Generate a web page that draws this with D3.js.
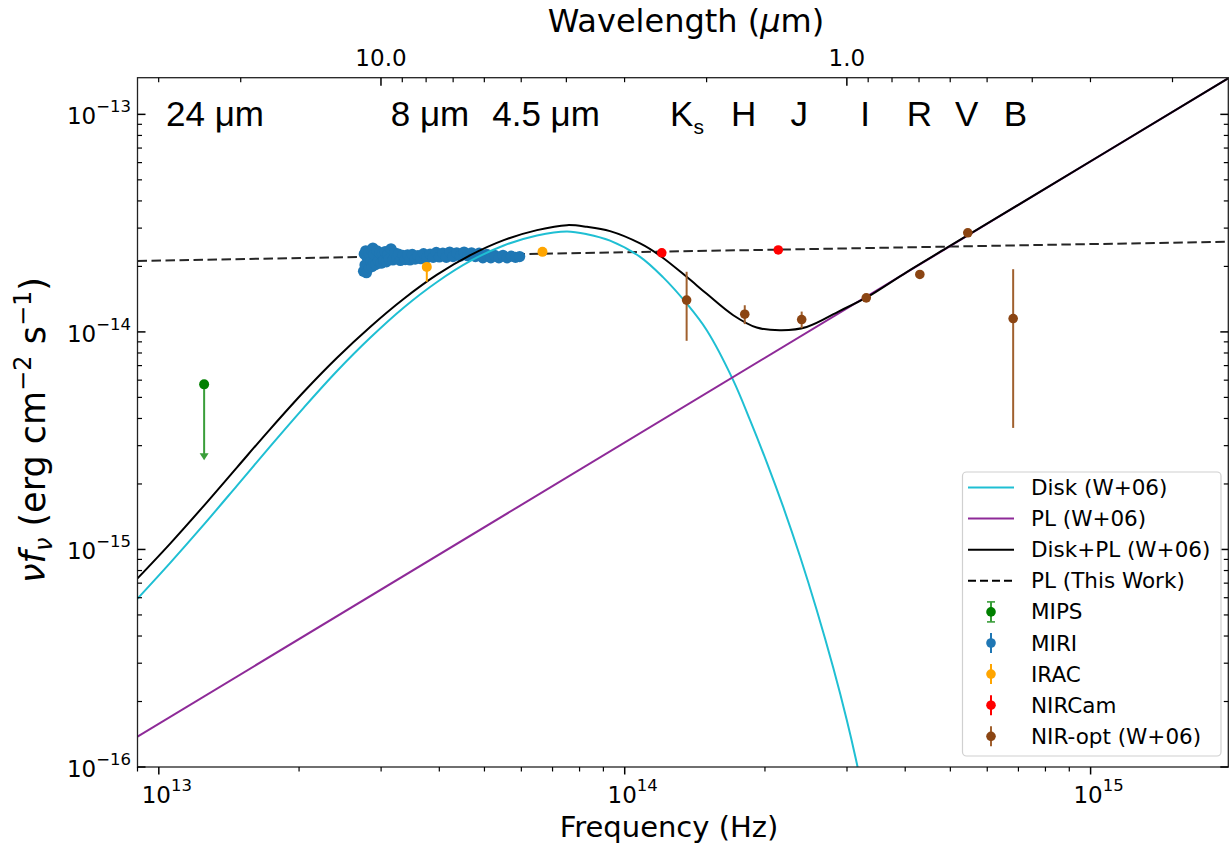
<!DOCTYPE html>
<html><head><meta charset="utf-8">
<script src="https://cdn.jsdelivr.net/npm/d3@7"></script>
<style>
body{margin:0;background:#fff;}
svg{display:block;}
text{font-family:"DejaVu Sans",sans-serif;fill:#000;}
</style></head><body>
<svg id="chart" width="1230" height="846"></svg>
<script>
// ---------------- data (frequency in Hz, nu*f_nu in erg cm^-2 s^-1) ----------------
const diskNu = [9.0e12,1.059e13,1.249e13,1.472e13,1.736e13,2.048e13,2.413e13,2.846e13,3.357e13,3.956e13,4.665e13,5.501e13,6.483e13,7.52e13,8.30e13,9.30e13,1.079e14,1.208e14,1.358e14,1.500e14,1.710e14,1.858e14,2.017e14,2.189e14,2.378e14,2.582e14,2.803e14,2.995e14,3.136e14,3.23e14];
const diskFlux = [5.94e-16,8.70e-16,1.300e-15,1.966e-15,2.986e-15,4.49e-15,6.61e-15,9.42e-15,1.295e-14,1.696e-14,2.119e-14,2.497e-14,2.776e-14,2.896e-14,2.814e-14,2.627e-14,2.213e-14,1.785e-14,1.351e-14,1.018e-14,5.99e-15,3.93e-15,2.521e-15,1.568e-15,9.30e-16,5.28e-16,2.856e-16,1.654e-16,1.083e-16,7.98e-17];

const plNu = [9.0e12, 2.0e15];
const plFlux = [1.38e-16, 1.49e-13];

const totNu = [9.0e12,1.059e13,1.249e13,1.472e13,1.736e13,2.048e13,2.413e13,2.846e13,3.357e13,3.956e13,4.665e13,5.501e13,6.483e13,7.52e13,8.30e13,9.30e13,1.079e14,1.191e14,1.358e14,1.500e14,1.710e14,1.920e14,2.173e14,2.458e14,2.897e14,3.305e14,4.030e14,4.91e14,6.18e14,2.0e15];
const totFlux = [7.36e-16,1.067e-15,1.587e-15,2.385e-15,3.586e-15,5.31e-15,7.61e-15,1.057e-14,1.421e-14,1.833e-14,2.253e-14,2.641e-14,2.937e-14,3.096e-14,3.041e-14,2.905e-14,2.551e-14,2.24e-14,1.791e-14,1.496e-14,1.193e-14,1.047e-14,1.018e-14,1.054e-14,1.25e-14,1.44e-14,1.884e-14,2.432e-14,3.27e-14,1.49e-13];

const thisNu = [9.0e12, 2.0e15];
const thisFlux = [2.12e-14, 2.6e-14];

// MIPS 24 um upper limit
const mipsNu = [1.251e13];
const mipsFlux = [5.74e-15];
const mipsLimit = [2.57e-15];

// MIRI spectrum (nu in 1e13 Hz, flux in 1e-14)
const miriNu13 = [2.75,2.76,2.77,2.78,2.79,2.80,2.81,2.82,2.83,2.84,2.85,2.86,2.87,2.88,2.89,2.90,2.92,2.94,2.96,2.98,3.00,3.02,3.04,3.06,3.08,3.10,3.12,3.15,3.18,3.21,3.24,3.27,3.30,3.34,3.38,3.42,3.46,3.50,3.55,3.60,3.65,3.70,3.76,3.82,3.88,3.94,4.00,4.07,4.14,4.21,4.28,4.36,4.44,4.52,4.60,4.69,4.78,4.87,4.96,5.06,5.16,5.26,5.37,5.48,5.59,5.71,5.83,5.95];
const miriFlux14 = [1.90,2.28,2.03,2.36,1.87,2.20,2.06,2.32,1.97,2.24,2.10,2.38,2.00,2.43,2.08,2.27,2.04,2.36,2.12,2.31,2.07,2.29,2.13,2.34,2.10,2.27,2.16,2.41,2.14,2.31,2.17,2.28,2.13,2.25,2.15,2.26,2.14,2.27,2.16,2.24,2.17,2.29,2.19,2.28,2.20,2.32,2.21,2.30,2.20,2.33,2.22,2.31,2.23,2.33,2.24,2.31,2.22,2.30,2.19,2.27,2.19,2.25,2.19,2.25,2.19,2.23,2.20,2.22];

// IRAC
const iracNu = [3.76e13, 6.66e13];
const iracFlux = [1.99e-14, 2.333e-14];
const iracLo = [1.70e-14, 2.333e-14];
const iracHi = [2.05e-14, 2.333e-14];

// NIRCam
const nircamNu = [1.201e14, 2.136e14];
const nircamFlux = [2.31e-14, 2.38e-14];
const nircamErr = [0.10e-14, 0.10e-14];

// NIR-optical (W+06): Ks H J I R V B
const optNu = [1.358e14, 1.81e14, 2.398e14, 3.30e14, 4.30e14, 5.45e14, 6.82e14];
const optFlux = [1.40e-14, 1.206e-14, 1.14e-14, 1.434e-14, 1.837e-14, 2.854e-14, 1.152e-14];
const optErr = [0.49e-14, 0.12e-14, 0.10e-14, 0.03e-14, 0.03e-14, 0.05e-14, 0.79e-14];

// band annotations
const bandNames = ["24 μm","8 μm","4.5 μm","K","H","J","I","R","V","B"];
const bandNu = [1.32e13, 3.82e13, 6.78e13, 1.251e14, 1.80e14, 2.37e14, 3.28e14, 4.29e14, 5.42e14, 6.9e14];

// tick values
const xMajorTicks = [1e13, 1e14, 1e15];
const xMajorLabels = ["13", "14", "15"];
const yMajorTicks = [1e-16, 1e-15, 1e-14, 1e-13];
const yMajorLabels = ["−16", "−15", "−14", "−13"];
const wlMinorTicks = [30,20,9,8,7,6,5,4,3,2,0.9,0.8,0.7,0.6,0.5,0.4,0.3,0.2];
const wlMajorTicks = [10, 1];
const wlMajorLabels = ["10.0", "1.0"];

const legendLabels = ["Disk (W+06)","PL (W+06)","Disk+PL (W+06)","PL (This Work)","MIPS","MIRI","IRAC","NIRCam","NIR-opt (W+06)"];

// ---------------- drawing ----------------
const C_LIGHT = 2.998e14; // um*Hz
const X0 = 137.5, X1 = 1228.3, Y0 = 77.7, Y1 = 767;
const x = d3.scaleLog().domain([9e12, 1.975e15]).range([X0, X1]);
const y = d3.scaleLog().domain([1e-16, 1.474e-13]).range([Y1, Y0]);

const col = {disk:"#1fbfd3", pl:"#8e2a98", tot:"#000", mips:"#008000", mipsLine:"#3a9e3a", miri:"#1f77b4", irac:"#ffa500", nircam:"#ff0000", opt:"#8b4513", optBar:"#a0602e"};

const svg = d3.select("#chart");
svg.append("rect").attr("width",1230).attr("height",846).attr("fill","#fff");
svg.append("defs").append("clipPath").attr("id","clip")
  .append("rect").attr("x",X0).attr("y",Y0).attr("width",X1-X0).attr("height",Y1-Y0);
const plot = svg.append("g").attr("clip-path","url(#clip)");

const zip = (a,b) => a.map((v,i)=>({nu:v, f:b[i]}));
const line = d3.line().x(d=>x(d.nu)).y(d=>y(d.f));
const smooth = d3.line().x(d=>x(d.nu)).y(d=>y(d.f)).curve(d3.curveCatmullRom.alpha(0.5));

// dashed PL (this work)
plot.append("path").datum(zip(thisNu,thisFlux)).attr("d",line)
  .attr("fill","none").attr("stroke","#000").attr("stroke-width",2).attr("stroke-dasharray","9.5,4.5").attr("opacity",0.85);

// MIRI
plot.append("g").selectAll("circle").data(zip(miriNu13.map(v=>v*1e13), miriFlux14.map(v=>v*1e-14))).join("circle")
  .attr("cx",d=>x(d.nu)).attr("cy",d=>y(d.f)).attr("r",5.6).attr("fill",col.miri);

// model curves
plot.append("path").datum(zip(diskNu,diskFlux)).attr("d",smooth)
  .attr("fill","none").attr("stroke",col.disk).attr("stroke-width",2);
plot.append("path").datum(zip(plNu,plFlux)).attr("d",line)
  .attr("fill","none").attr("stroke",col.pl).attr("stroke-width",2);
plot.append("path").datum(zip(totNu,totFlux)).attr("d",smooth)
  .attr("fill","none").attr("stroke",col.tot).attr("stroke-width",2);

// MIPS upper limit
mipsNu.forEach((nu,i)=>{
  const cx = x(nu), y1 = y(mipsFlux[i]), y2 = y(mipsLimit[i]);
  plot.append("line").attr("x1",cx).attr("x2",cx).attr("y1",y1).attr("y2",y2-6)
    .attr("stroke",col.mipsLine).attr("stroke-width",2);
  plot.append("path").attr("d",`M${cx-4.5},${y2-7}L${cx+4.5},${y2-7}L${cx},${y2}Z`).attr("fill",col.mipsLine);
  plot.append("circle").attr("cx",cx).attr("cy",y1).attr("r",5).attr("fill",col.mips);
});

// IRAC
iracNu.forEach((nu,i)=>{
  const cx = x(nu);
  plot.append("line").attr("x1",cx).attr("x2",cx).attr("y1",y(iracLo[i])).attr("y2",y(iracHi[i]))
    .attr("stroke",col.irac).attr("stroke-width",2);
  plot.append("circle").attr("cx",cx).attr("cy",y(iracFlux[i])).attr("r",5).attr("fill",col.irac);
});

// NIRCam
nircamNu.forEach((nu,i)=>{
  const cx = x(nu);
  plot.append("line").attr("x1",cx).attr("x2",cx).attr("y1",y(nircamFlux[i]-nircamErr[i])).attr("y2",y(nircamFlux[i]+nircamErr[i]))
    .attr("stroke",col.nircam).attr("stroke-width",2);
  plot.append("circle").attr("cx",cx).attr("cy",y(nircamFlux[i])).attr("r",4.8).attr("fill",col.nircam);
});

// NIR-opt
optNu.forEach((nu,i)=>{
  const cx = x(nu);
  plot.append("line").attr("x1",cx).attr("x2",cx).attr("y1",y(optFlux[i]-optErr[i])).attr("y2",y(optFlux[i]+optErr[i]))
    .attr("stroke",col.optBar).attr("stroke-width",2);
  plot.append("circle").attr("cx",cx).attr("cy",y(optFlux[i])).attr("r",4.8).attr("fill",col.opt);
});

// band labels
const bandG = svg.append("g");
bandNames.forEach((name,i)=>{
  const t = bandG.append("text").attr("x",x(bandNu[i])).attr("y",126).attr("text-anchor","middle")
    .style("font-family","'Liberation Sans',Arial,sans-serif").style("font-size","35px");
  if (name === "K") {
    t.attr("text-anchor","start");
    t.append("tspan").text("K");
    t.append("tspan").attr("dy",8).style("font-size","21px").text("s");
  } else t.text(name);
});

// ---------------- axes ----------------
const axes = svg.append("g");
axes.append("rect").attr("x",X0).attr("y",Y0).attr("width",X1-X0).attr("height",Y1-Y0)
  .attr("fill","none").attr("stroke","#222").attr("stroke-width",1.3);

const tk = (x1,y1,x2,y2,w)=>axes.append("line").attr("x1",x1).attr("y1",y1).attr("x2",x2).attr("y2",y2).attr("stroke","#000").attr("stroke-width",w);

// bottom (out)
const xMinor = x.ticks().filter(v=>!xMajorTicks.some(m=>Math.abs(m-v)/m<1e-6));
xMinor.forEach(v=>{ const px=x(v); if(px>=X0-0.5 && px<=X1+0.5) tk(px,Y1,px,Y1+4.5,1.2); });
xMajorTicks.forEach((v,i)=>{
  const px=x(v); tk(px,Y1,px,Y1+7.5,1.5);
  const t=axes.append("text").attr("x",px+8).attr("y",803).attr("text-anchor","middle").style("font-size","23px");
  t.append("tspan").text("10");
  t.append("tspan").attr("dy",-12).style("font-size","16.5px").text(xMajorLabels[i]);
});

// left & right (in)
const yMinor = y.ticks().filter(v=>!yMajorTicks.some(m=>Math.abs(m-v)/m<1e-6));
yMinor.forEach(v=>{ const py=y(v); if(py>=Y0-0.5&&py<=Y1+0.5){ tk(X0,py,X0+4.5,py,1.2); tk(X1,py,X1-4.5,py,1.2);} });
yMajorTicks.forEach((v,i)=>{
  const py=y(v); tk(X0,py,X0+8,py,1.5); tk(X1,py,X1-8,py,1.5);
  const t=axes.append("text").attr("x",131).attr("y",py+10).attr("text-anchor","end").style("font-size","23px");
  t.append("tspan").text("10");
  t.append("tspan").attr("dy",-12).style("font-size","16.5px").text(yMajorLabels[i]);
});

// top wavelength axis (in)
wlMinorTicks.forEach(l=>{ const px=x(C_LIGHT/l); if(px>=X0-0.5&&px<=X1+0.5) tk(px,Y0,px,Y0+4.5,1.2); });
wlMajorTicks.forEach((l,i)=>{
  const px=x(C_LIGHT/l); tk(px,Y0,px,Y0+8,1.5);
  axes.append("text").attr("x",px).attr("y",66).attr("text-anchor","middle").style("font-size","23px").text(wlMajorLabels[i]);
});

// axis titles
const wt = svg.append("text").attr("x",686).attr("y",32).attr("text-anchor","middle").style("font-size","32px");
wt.append("tspan").text("Wavelength (");
wt.append("tspan").style("font-style","italic").text("μ");
wt.append("tspan").text("m)");

svg.append("text").attr("x",669).attr("y",837).attr("text-anchor","middle").style("font-size","29px").text("Frequency (Hz)");

const yt = svg.append("text").attr("transform","translate(45,430) rotate(-90)").attr("text-anchor","middle").style("font-size","35px");
yt.append("tspan").style("font-style","italic").text("νf");
yt.append("tspan").style("font-style","italic").style("font-size","24px").attr("dy",7).text("ν");
yt.append("tspan").attr("dy",-7).text(" (erg cm");
yt.append("tspan").style("font-size","24px").attr("dy",-14).text("−2");
yt.append("tspan").attr("dy",14).text(" s");
yt.append("tspan").style("font-size","24px").attr("dy",-14).text("−1");
yt.append("tspan").attr("dy",14).text(")");

// ---------------- legend ----------------
const lg = svg.append("g");
lg.append("rect").attr("x",962.5).attr("y",472).attr("width",258.5).attr("height",284).attr("rx",4)
  .attr("fill","#fff").attr("fill-opacity",0.85).attr("stroke","#d0d0d0").attr("stroke-width",1.2);
const lineStyles = [
  {stroke:col.disk}, {stroke:col.pl}, {stroke:"#000"}, {stroke:"#000", dash:"8,4"}
];
const markStyles = [
  {fill:col.mips, bar:col.mipsLine, caps:true}, {fill:col.miri, bar:col.miri}, {fill:col.irac, bar:col.irac},
  {fill:col.nircam, bar:col.nircam}, {fill:col.opt, bar:col.optBar}
];
legendLabels.forEach((lab,i)=>{
  const cy = 487.5 + 31.1*i;
  if (i < 4) {
    const s = lineStyles[i];
    lg.append("line").attr("x1",968).attr("x2",1014).attr("y1",cy).attr("y2",cy)
      .attr("stroke",s.stroke).attr("stroke-width",2).attr("stroke-dasharray",s.dash||null);
  } else {
    const s = markStyles[i-4];
    lg.append("line").attr("x1",991).attr("x2",991).attr("y1",cy-10).attr("y2",cy+10).attr("stroke",s.bar).attr("stroke-width",2);
    if (s.caps) {
      lg.append("line").attr("x1",987).attr("x2",995).attr("y1",cy-10).attr("y2",cy-10).attr("stroke",s.bar).attr("stroke-width",1.6);
      lg.append("line").attr("x1",987).attr("x2",995).attr("y1",cy+10).attr("y2",cy+10).attr("stroke",s.bar).attr("stroke-width",1.6);
    }
    lg.append("circle").attr("cx",991).attr("cy",cy).attr("r",4.8).attr("fill",s.fill);
  }
  lg.append("text").attr("x",1031).attr("y",cy+7.5).style("font-size","21.5px").text(lab);
});
</script>
</body></html>
